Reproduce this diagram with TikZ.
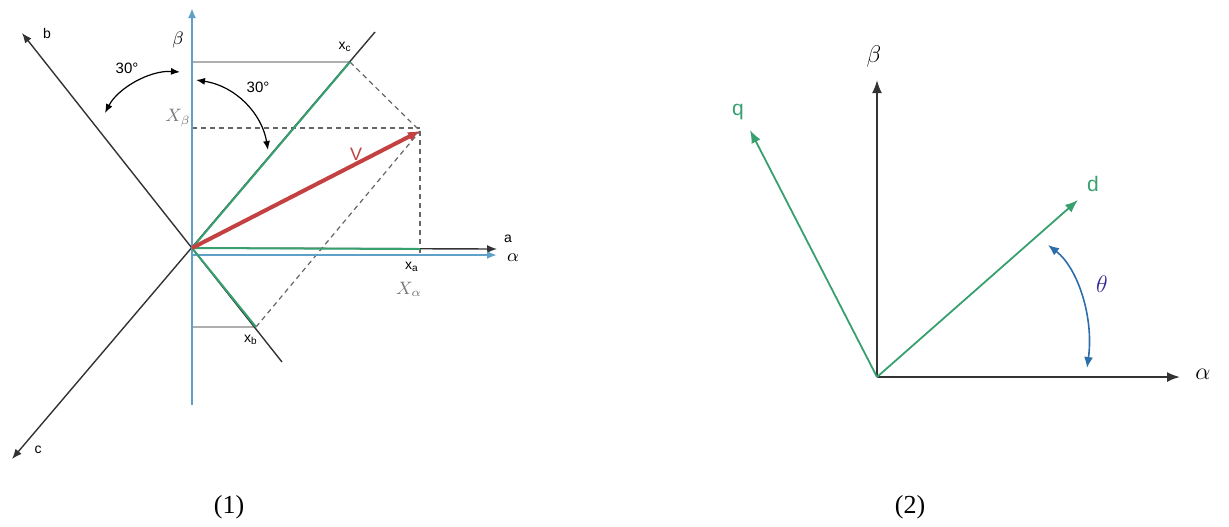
\documentclass[tikz,border=0pt]{standalone}
\usepackage{fontspec}
\setmainfont{Liberation Serif}
\setsansfont{Liberation Sans}
\usetikzlibrary{arrows.meta}
\definecolor{axblue}{RGB}{95,160,200}
\definecolor{phgreen}{RGB}{55,160,110}
\definecolor{vred}{RGB}{195,65,65}
\definecolor{thin}{RGB}{175,175,175}
\definecolor{lblgray}{RGB}{120,120,120}
\definecolor{thblue}{RGB}{45,110,170}
\definecolor{thtext}{RGB}{50,40,150}
\tikzset{
  blueaxis/.style={draw=axblue,line width=1.3pt,-{Latex[length=5pt,width=4pt]}},
  blackaxis/.style={draw=black!80,line width=0.7pt,-{Latex[length=5pt,width=4pt]}},
  blackline/.style={draw=black!80,line width=0.7pt},
  greenline/.style={draw=phgreen,line width=1pt},
  guide/.style={draw=thin,line width=0.6pt},
  dashguide/.style={draw=black!60,line width=0.6pt,dash pattern=on 2.5pt off 2pt},
  anglearrow/.style={draw=black,line width=0.6pt,{Latex[length=4.5pt,width=3.5pt]}-{Latex[length=4.5pt,width=3.5pt]}},
  lbl/.style={inner sep=0pt,font=\sffamily\fontsize{7}{8}\selectfont},
  mlbl/.style={inner sep=0pt,font=\fontsize{9}{10}\selectfont},
  axis2/.style={draw=black!80,line width=1pt,-{Latex[length=6.5pt,width=5pt]}},
  green2/.style={draw=phgreen,line width=0.9pt,-{Latex[length=6.5pt,width=5pt]}},
  big/.style={inner sep=0pt,font=\fontsize{13}{15}\selectfont},
  caption/.style={inner sep=0pt,font=\fontsize{13}{15}\selectfont}
}
\begin{document}
\begin{tikzpicture}[x=0.5pt,y=-0.5pt]
\useasboundingbox (0,0) rectangle (1229,526);
% ---------- diagram (1) ----------
\coordinate (O) at (192,248);
\coordinate (betaBot) at (192,405);
\coordinate (betaTop) at (192,8);
\coordinate (alphaStart) at (192,255);
\coordinate (alphaEnd) at (497,255);
\coordinate (aEnd) at (497,249);
\coordinate (bTip) at (22,33);
\coordinate (bEnd) at (282,362);
\coordinate (cTip) at (12,459);
\coordinate (cEnd) at (375,32);
\coordinate (Xc) at (350,62);
\coordinate (Xb) at (256,327);
\coordinate (Xa) at (420,249);
\coordinate (Xaa) at (420,253);
\coordinate (Vt) at (420,131);
\coordinate (XcF) at (192,62);
\coordinate (XbF) at (192,327);
\coordinate (XbetaF) at (192,128);
\coordinate (VtH) at (420,128);

% thin guides
\draw[guide] (XcF) -- (Xc);
\draw[guide] (XbF) -- (Xb);
\draw[dashguide] (XbetaF) -- (VtH);
\draw[dashguide] (Vt) -- (Xaa);
\draw[dashguide] (Xc) -- (Vt);
\draw[dashguide] (Xb) -- (Vt);

% abc axes
\draw[blackaxis] (bEnd) -- (bTip);
\draw[blackaxis] (cEnd) -- (cTip);
\draw[blackaxis] (O) -- (aEnd);
% alpha beta axes
\draw[blueaxis] (betaBot) -- (betaTop);
\draw[blueaxis] (alphaStart) -- (alphaEnd);
% projections
\draw[greenline] (O) -- (Xc);
\draw[greenline] (O) -- (Xb);
\draw[greenline] (O) -- (Xa);
% vector V
\draw[draw=vred,line width=2pt,-{Latex[length=6pt,width=5pt]}] (O) -- (Vt);

% angle arcs
\coordinate (a1s) at (180,72);
\coordinate (a1e) at (105,113);
\coordinate (a2s) at (196,80);
\coordinate (a2e) at (268,150);
\draw[anglearrow] (a1s) .. controls (150,70) and (118,88) .. (a1e);
\draw[anglearrow] (a2s) .. controls (236,86) and (262,114) .. (a2e);

% labels
\node[lbl] (lb) at (47,33) {b};
\node[lbl] (lc) at (38,450) {c};
\node[lbl] (la) at (508,239) {a};
\node[mlbl] (lalpha) at (513,258) {$\alpha$};
\node[mlbl] (lbeta) at (178,40) {$\beta$};
\node[lbl] (lxc) at (345,47) {x\textsubscript{c}};
\node[lbl] (lxa) at (412,267) {x\textsubscript{a}};
\node[lbl] (lxb) at (251,340) {x\textsubscript{b}};
\node[mlbl,text=lblgray] (lXa) at (409,289) {$X_\alpha$};
\node[mlbl,text=lblgray] (lXb) at (178,118) {$X_\beta$};
\node[lbl,font=\sffamily\fontsize{7.5}{8}\selectfont] (l30a) at (127,68) {30°};
\node[lbl,font=\sffamily\fontsize{7.5}{8}\selectfont] (l30b) at (258,87) {30°};
\node[lbl,text=vred,font=\sffamily\fontsize{9}{10}\selectfont] (lV) at (356,154) {V};

% ---------- diagram (2) ----------
\coordinate (O2) at (877,377);
\coordinate (beta2) at (877,80);
\coordinate (alpha2) at (1180,377);
\coordinate (dTip) at (1078,200);
\coordinate (qTip) at (750,130);
\draw[axis2] (O2) -- (beta2);
\draw[axis2] (O2) -- (alpha2);
\draw[green2] (O2) -- (dTip);
\draw[green2] (O2) -- (qTip);
\coordinate (t1) at (1048,245);
\coordinate (t2) at (1087,368);
\draw[draw=thblue,line width=0.8pt,{Latex[length=5.5pt,width=4.5pt]}-{Latex[length=5.5pt,width=4.5pt]}] (t1) .. controls (1078,268) and (1094,318) .. (t2);

\node[big] (lbeta2) at (874,56) {$\beta$};
\node[big] (lalpha2) at (1203,374) {$\alpha$};
\node[big,text=thtext] (ltheta) at (1102,284) {$\theta$};
\node[lbl,text=phgreen,font=\sffamily\fontsize{10.5}{12}\selectfont] (ld) at (1093,184) {d};
\node[lbl,text=phgreen,font=\sffamily\fontsize{10.5}{12}\selectfont] (lq) at (738,112) {q};

% captions
\node[caption] (cap1) at (229,507) {(1)};
\node[caption] (cap2) at (910,507) {(2)};
\end{tikzpicture}
\end{document}
